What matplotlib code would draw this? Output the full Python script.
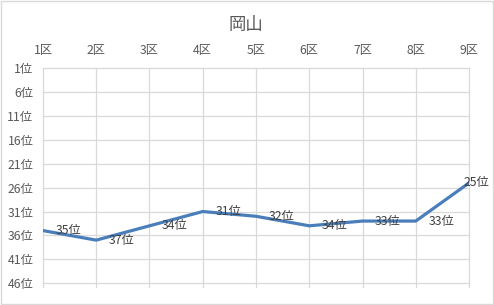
import matplotlib
matplotlib.use("Agg")
import matplotlib.pyplot as plt
from matplotlib.patches import Rectangle

plt.rcParams["font.family"] = ["Noto Sans CJK JP", "DejaVu Sans"]

TITLE = "岡山"
districts = ["1区", "2区", "3区", "4区", "5区", "6区", "7区", "8区", "9区"]
ranks = [35, 37, 34, 31, 32, 34, 33, 33, 25]
rank_ticks = [1, 6, 11, 16, 21, 26, 31, 36, 41, 46]

LINE = "#4A7EBB"
GRID = "#D9D9D9"
TEXT = "#595959"


def main():
    fig = plt.figure(figsize=(4.94, 3.05), dpi=100)
    ax = fig.add_axes([0.087, 0.072, 0.8625, 0.7035])

    x = list(range(len(districts)))
    ax.plot(x, ranks, color=LINE, lw=2.3, solid_capstyle="round",
            solid_joinstyle="round", zorder=3)

    # labels sit to the right of each point; the last one is pulled back inside
    for i, r in enumerate(ranks):
        dx = 9 if i < len(ranks) - 1 else -4
        ax.annotate(f"{r}位", (i, r), xytext=(dx, 0), textcoords="offset points",
                    ha="left", va="center", fontsize=8.8, color="#404040", zorder=4)

    ax.set_xlim(0, len(districts) - 1)
    ax.set_ylim(46, 1)
    ax.set_xticks(x)
    ax.set_xticklabels(districts)
    ax.set_yticks(rank_ticks)
    ax.set_yticklabels([f"{t}位" for t in rank_ticks])
    ax.xaxis.tick_top()
    ax.tick_params(axis="x", length=0, pad=8, labelsize=8.8, labelcolor=TEXT)
    ax.tick_params(axis="y", length=0, pad=7, labelsize=8.8, labelcolor=TEXT)

    for t in rank_ticks:
        ax.axhline(t, color=GRID, lw=0.9, zorder=1, clip_on=False)
    for i in x:
        ax.plot([i, i], [1, 46.8], color=GRID, lw=0.9, zorder=1, clip_on=False)
    for s in ax.spines.values():
        s.set_visible(False)

    fig.text(0.497, 0.918, TITLE, ha="center", va="center", fontsize=12.5, color=TEXT)
    fig.add_artist(Rectangle((0.002, 0.003), 0.995, 0.994, transform=fig.transFigure,
                             fill=False, edgecolor=GRID, lw=1.0))

    fig.savefig("out.png", dpi=100, facecolor="white")


if __name__ == "__main__":
    main()
